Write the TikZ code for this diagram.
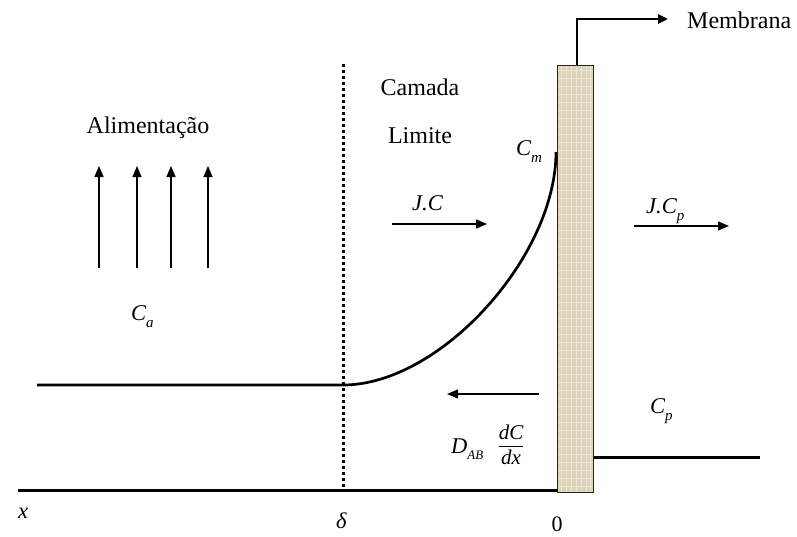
\documentclass[tikz,border=0pt]{standalone}
\usepackage{fontspec}
\setmainfont{Liberation Serif}
\usetikzlibrary{arrows.meta}
\definecolor{membr}{RGB}{221,210,186}
\definecolor{membrl}{RGB}{236,229,212}
\newcommand{\lsub}[1]{\raisebox{-0.32em}{\fontsize{15}{15}\selectfont\textit{#1}}}
\begin{document}
\begin{tikzpicture}[x=1pt,y=-1pt,
  lbl/.style={inner sep=0pt, anchor=base, font=\fontsize{24}{28}\selectfont},
  mlbl/.style={inner sep=0pt, anchor=base west, font=\fontsize{22.5}{26}\selectfont\itshape},
  arr/.style={line width=1.3pt, -{Triangle[length=11pt,width=9pt]}},
  heavy/.style={line width=3pt},
  curveline/.style={line width=2.7pt},
  dotline/.style={line width=3pt, dash pattern=on 3pt off 3pt},
  membox/.style={draw=black!85, line width=1pt, fill=membr, minimum width=36pt, minimum height=427pt, inner sep=0pt}]
\useasboundingbox (0,0) rectangle (797,536);

% membrane
\node[membox] (mem) at (575,278.5) {};
\begin{scope}
  \clip (557.5,65.5) rectangle (592.5,491.5);
  \foreach \xx in {561,566,571,576,581,586,590} {
    \draw[membrl, line width=0.8pt] (\xx,65) -- (\xx,492);
  }
  \foreach \yy in {70,78,...,490} {
    \draw[membrl, line width=0.5pt] (557,\yy) -- (593,\yy);
  }
\end{scope}
\node[membox, fill=none] (memb) at (575,278.5) {};

% membrane label arrow
\coordinate (mtip) at (668,19);
\draw[line width=2.5pt, -{Triangle[length=10pt,width=9pt]}] ([xshift=2pt]mem.north) |- (mtip);
\node[lbl, anchor=base west] (memlbl) at (687,28) {Membrana};

% axis lines
\coordinate (x0) at (18,490);
\draw[heavy] (x0) -- (x0 -| mem.west);
\coordinate (rp) at (760,457);
\draw[heavy] (rp -| mem.east) -- (rp);

% concentration profile
\coordinate (l0) at (37,385);
\coordinate (dl) at (343,385);
\coordinate (cmpt) at (556,152);
\draw[curveline] (l0) -- (dl) .. controls (440,385) and (556,257) .. (cmpt);

% boundary layer dotted line
\coordinate (dtop) at (343,64);
\draw[dotline] (dtop) -- (dtop |- x0);

% texts
\node[lbl] (cam) at (420,95) {Camada};
\node[lbl] (lim) at (420,143) {Limite};
\node[lbl] (ali) at (148,133) {Alimentação};
\node[mlbl] (cm) at (516,155) {C\lsub{m}};
\node[mlbl] (ca) at (131,320) {C\lsub{a}};
\node[mlbl] (jc) at (412,210) {J.C};
\node[mlbl] (jcp) at (646,213) {J.C\lsub{p}};
\node[mlbl] (cp) at (650,413) {C\lsub{p}};
\node[mlbl] (x) at (18,518) {x};
\node[mlbl] (delta) at (336,528) {δ};
\node[lbl, font=\fontsize{22}{26}\selectfont] (zero) at (557,531) {0};
\node[mlbl] (dab) at (451,453) {D\raisebox{-0.3em}{\fontsize{13}{13}\selectfont\textit{AB}}};
\node[inner sep=0pt, anchor=center, font=\fontsize{21}{25}\selectfont\itshape] (frac) at (511,447)
  {\begin{tabular}{@{}c@{}}\rule{0pt}{17pt}dC\\[-1pt]\hline\rule{0pt}{19pt}dx\end{tabular}};

% flux arrows
\coordinate (jcs) at (392,224); \coordinate (jce) at (487,224);
\draw[arr] (jcs) -- (jce);
\coordinate (jps) at (634,226); \coordinate (jpe) at (729,226);
\draw[arr] (jps) -- (jpe);
\coordinate (dfs) at (539,394); \coordinate (dfe) at (447,394);
\draw[arr] (dfs) -- (dfe);

% feed arrows
\foreach \xx/\nm in {99/a,137/b,171/c,208/d} {
  \coordinate (f\nm s) at (\xx,268);
  \coordinate (f\nm e) at (\xx,166);
  \draw[arr] (f\nm s) -- (f\nm e);
}
\end{tikzpicture}
\end{document}
